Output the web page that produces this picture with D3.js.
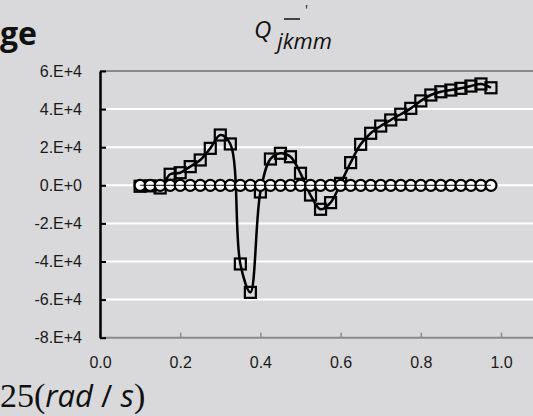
<!DOCTYPE html>
<html>
<head>
<meta charset="utf-8">
<script src="https://cdn.jsdelivr.net/npm/d3@7"></script>
<style>
  html, body { margin: 0; padding: 0; background: #d9d9db; overflow: hidden; }
  svg { display: block; }
</style>
</head>
<body>
<div id="chart"></div>
<script>
// frequency (rad/s)
var freqs = [0.1, 0.125, 0.15, 0.175, 0.2, 0.225, 0.25, 0.275, 0.3, 0.325,
             0.35, 0.375, 0.4, 0.425, 0.45, 0.475, 0.5, 0.525, 0.55, 0.575,
             0.6, 0.625, 0.65, 0.675, 0.7, 0.725, 0.75, 0.775, 0.8, 0.825,
             0.85, 0.875, 0.9, 0.925, 0.95, 0.975];
// square series
var squareVals = [-500, -300, -1400, 5800, 6600, 9800, 13300, 19400, 26400, 21700,
                  -41300, -56200, -3500, 13800, 16800, 15000, 6300, -5100, -12600, -9100,
                  1000, 11900, 21500, 27300, 31100, 34300, 37300, 40400, 44300, 47400,
                  49100, 50000, 50900, 52100, 53200, 51200];
// circle series
var circleVals = [0, 0, 0, 0, 0, 0, 0, 0, 0, 0,
                  0, 0, 0, 0, 0, 0, 0, 0, 0, 0,
                  0, 0, 0, 0, 0, 0, 0, 0, 0, 0,
                  0, 0, 0, 0, 0, 0];
var yTicks = [-80000, -60000, -40000, -20000, 0, 20000, 40000, 60000];
var yTickLabels = ["-8.E+4", "-6.E+4", "-4.E+4", "-2.E+4", "0.E+0", "2.E+4", "4.E+4", "6.E+4"];
var xTicks = [0, 0.2, 0.4, 0.6, 0.8, 1.0];
var xTickLabels = ["0.0", "0.2", "0.4", "0.6", "0.8", "1.0"];

var W = 533, H = 416;
var svg = d3.select("#chart").append("svg")
    .attr("width", W)
    .attr("height", H);

svg.append("rect").attr("width", W).attr("height", H).attr("fill", "#d9d9db");

var x = d3.scaleLinear().domain([0, 1.1]).range([100, 100 + 401 * 1.1]);
var y = d3.scaleLinear().domain([-80000, 60000]).range([337.7, 71]);

// gridlines
svg.append("g").selectAll("line")
    .data(yTicks.slice(1, -1))
    .enter().append("line")
    .attr("x1", 106).attr("x2", W)
    .attr("y1", function(d) { return y(d); })
    .attr("y2", function(d) { return y(d); })
    .attr("stroke", "#ffffff")
    .attr("stroke-width", 2);

// top border
svg.append("line")
    .attr("x1", 100).attr("x2", W)
    .attr("y1", y(60000)).attr("y2", y(60000))
    .attr("stroke", "#6e6e6e").attr("stroke-width", 1.5);

// Add X axis
var xAxis = svg.append("g")
    .attr("transform", "translate(0," + y(-80000) + ")")
    .call(d3.axisBottom(x)
        .tickValues(xTicks)
        .tickSizeInner(-5)
        .tickSizeOuter(0)
        .tickPadding(19)
        .tickFormat(function(d, i) { return xTickLabels[i]; }));
xAxis.select(".domain").attr("stroke", "#8a8a8a").attr("stroke-width", 2)
    .attr("d", "M100,0H" + W);
xAxis.selectAll(".tick line").attr("stroke", "#8a8a8a").attr("stroke-width", 1.5);
xAxis.selectAll(".tick text")
    .attr("fill", "#1a1a1a")
    .style("font-family", "Liberation Sans, Arial, sans-serif")
    .style("font-size", "16px");

// Add Y axis
var yAxis = svg.append("g")
    .attr("transform", "translate(100,0)")
    .call(d3.axisLeft(y)
        .tickValues(yTicks)
        .tickSizeInner(-6)
        .tickSizeOuter(0)
        .tickPadding(18)
        .tickFormat(function(d, i) { return yTickLabels[i]; }));
yAxis.select(".domain").attr("stroke", "#000").attr("stroke-width", 2.5);
yAxis.selectAll(".tick line").attr("stroke", "#000").attr("stroke-width", 2);
yAxis.selectAll(".tick text")
    .attr("fill", "#1a1a1a")
    .style("font-family", "Liberation Sans, Arial, sans-serif")
    .style("font-size", "16px");

var sqData = freqs.map(function(f, i) { return {x: f, y: squareVals[i]}; });
var ciData = freqs.map(function(f, i) { return {x: f, y: circleVals[i]}; });

var line = d3.line()
    .x(function(d) { return x(d.x); })
    .y(function(d) { return y(d.y); })
    .curve(d3.curveCatmullRom.alpha(0.5));

// square series
svg.append("path")
    .datum(sqData)
    .attr("fill", "none")
    .attr("stroke", "#000")
    .attr("stroke-width", 2.5)
    .attr("d", line);

svg.selectAll(".sq")
    .data(sqData)
    .enter().append("rect")
    .attr("class", "sq")
    .attr("x", function(d) { return x(d.x) - 5.5; })
    .attr("y", function(d) { return y(d.y) - 5.5; })
    .attr("width", 11).attr("height", 11)
    .attr("fill", "none")
    .attr("stroke", "#000")
    .attr("stroke-width", 2.2);

// circle series
svg.selectAll(".ci")
    .data(ciData)
    .enter().append("circle")
    .attr("class", "ci")
    .attr("cx", function(d) { return x(d.x); })
    .attr("cy", function(d) { return y(d.y); })
    .attr("r", 5.5)
    .attr("fill", "#fff")
    .attr("stroke", "#000")
    .attr("stroke-width", 2.2);

svg.append("path")
    .datum(ciData)
    .attr("fill", "none")
    .attr("stroke", "#000")
    .attr("stroke-width", 1)
    .attr("d", line);

// title
var title = svg.append("text")
    .attr("x", 254).attr("y", 38)
    .style("font-family", "Open Sans, sans-serif")
    .style("font-style", "italic")
    .style("font-size", "24px")
    .attr("fill", "#111");
title.append("tspan").text("Q");
title.append("tspan").attr("dx", 6).attr("dy", 11).style("font-size", "22px").text("jkmm");
// overbar
svg.append("line")
    .attr("x1", 284).attr("x2", 300)
    .attr("y1", 19).attr("y2", 19)
    .attr("stroke", "#111").attr("stroke-width", 1.5);
svg.append("text")
    .attr("x", 305).attr("y", 15)
    .style("font-family", "Open Sans, sans-serif")
    .style("font-size", "14px")
    .attr("fill", "#111")
    .text("'");

// labels at the edges
svg.append("text")
    .attr("x", 0).attr("y", 45)
    .style("font-family", "Open Sans, sans-serif")
    .style("font-weight", "bold")
    .style("font-size", "32px")
    .attr("fill", "#111")
    .text("ge");

var unit = svg.append("text")
    .attr("x", 0).attr("y", 407)
    .style("font-family", "Liberation Serif, Times New Roman, serif")
    .style("font-size", "34px")
    .attr("fill", "#111");
unit.append("tspan").text("25(");
unit.append("tspan").style("font-family", "Open Sans, sans-serif").style("font-style", "italic").style("font-size", "31px").text("rad");
unit.append("tspan").style("font-family", "Open Sans, sans-serif").style("font-size", "31px").text(" / ");
unit.append("tspan").style("font-family", "Open Sans, sans-serif").style("font-style", "italic").style("font-size", "31px").text("s");
unit.append("tspan").text(")");
</script>
</body>
</html>
